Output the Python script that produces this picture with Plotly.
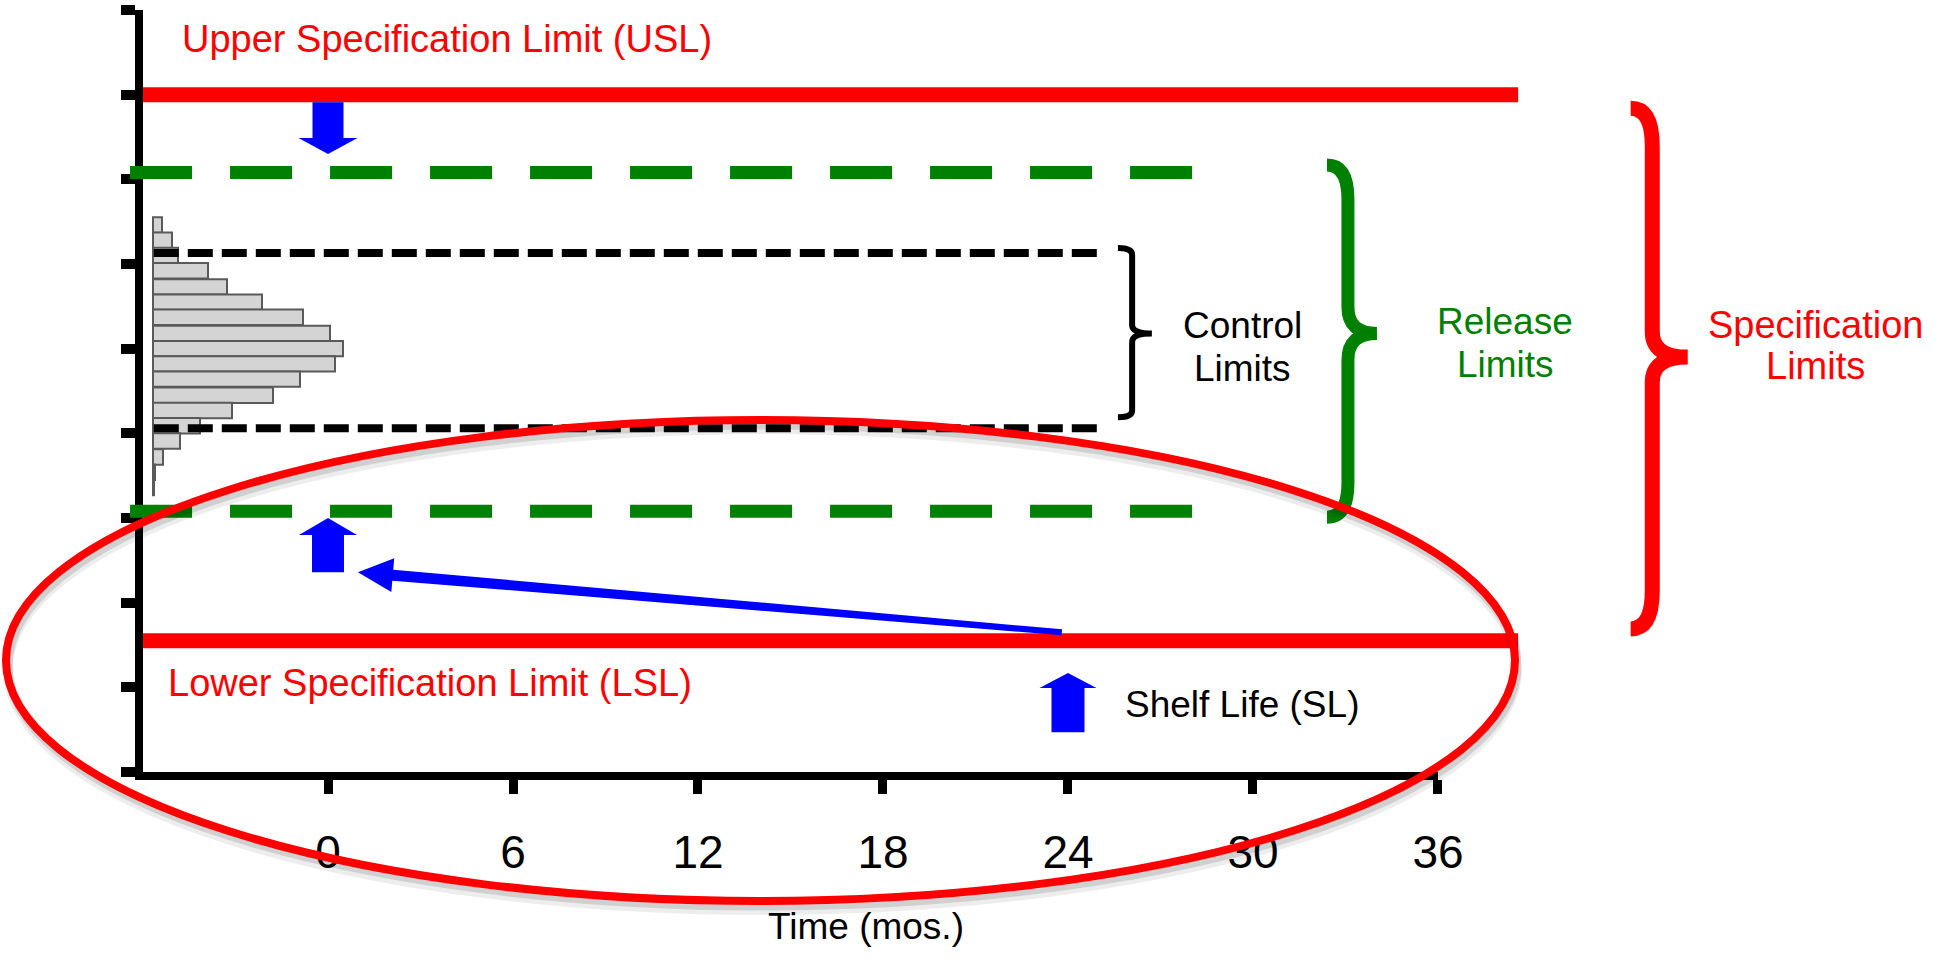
import plotly.graph_objects as go
import math

# ---------------- data ----------------
x_tick_months = [0, 6, 12, 18, 24, 30, 36]
y_tick_values = [0, 1, 2, 3, 4, 5, 6, 7, 8, 9]

USL = 8.0            # upper specification limit
LSL = 1.55           # lower specification limit
release_upper = 7.08
release_lower = 3.08
control_upper = 6.13
control_lower = 4.06
release_time = 0     # months
shelf_life = 24      # months

spec_x = [-6.0, 38.6]        # extent of the specification lines (months)
release_x = [-6.42, 28.6]    # extent of the release-limit lines
control_x = [-5.65, 25.0]    # extent of the control-limit lines

# histogram of release results (bin centre, frequency)
hist_bin_centres = [6.46, 6.28, 6.10, 5.92, 5.73, 5.55, 5.37, 5.18, 5.00,
                    4.82, 4.64, 4.45, 4.27, 4.09, 3.91, 3.72, 3.54, 3.36]
hist_counts = [9, 19, 25, 55, 74, 109, 150, 177, 190,
               182, 147, 120, 79, 47, 27, 10, 2, 1]
hist_bin_width = 0.182

# ---------------- geometry of the canvas ----------------
W, H = 1944, 961
X0_PX, PXX = 328.0, 30.833     # pixel of x=0 and pixels per month
Y0_PX, PXY = 772.0, 84.67      # pixel of y=0 and pixels per unit


def X(px):
    return (px - X0_PX) / PXX


def Y(py):
    return (Y0_PX - py) / PXY


def PX(x):
    return X0_PX + x * PXX


def PY(y):
    return Y0_PX - y * PXY


x_left_px, x_right_px = PX(-6), PX(36)
y_bot_px, y_top_px = PY(0), PY(9)
x_dom = [x_left_px / W, x_right_px / W]
y_dom = [1 - y_bot_px / H, 1 - y_top_px / H]
hist_base_px = x_left_px + 10   # bars start just right of the axis

FONT = "Liberation Sans, Arial, sans-serif"
RED = "#ff0000"
GREEN = "#008000"
BLUE = "#0000ff"

fig = go.Figure()

# 1) histogram on a hidden counts axis (x) sharing the visible y axis
fig.add_trace(go.Bar(
    y=hist_bin_centres, x=hist_counts, orientation="h", width=hist_bin_width,
    marker=dict(color="#d4d4d4", line=dict(color="#5a5a5a", width=2)),
    xaxis="x", yaxis="y", showlegend=False, hoverinfo="skip"))

# 2) control limits on the visible months axis (x2)
for yv in (control_upper, control_lower):
    fig.add_trace(go.Scatter(
        x=control_x, y=[yv, yv], mode="lines", xaxis="x2", yaxis="y",
        line=dict(color="black", width=8, dash="25px,9px"),
        showlegend=False, hoverinfo="skip"))

# 3) release and specification limits on full-canvas axes (x3/y3, same scale)
def hline(xs, yv, color, width, dash=None):
    fig.add_trace(go.Scatter(
        x=xs, y=[yv, yv], mode="lines", xaxis="x3", yaxis="y3",
        line=dict(color=color, width=width, dash=dash),
        showlegend=False, hoverinfo="skip"))

hline(release_x, release_upper, GREEN, 13, "62px,38px")
hline(release_x, release_lower, GREEN, 13, "62px,38px")
hline(spec_x, USL, RED, 15)
hline(spec_x, LSL, RED, 15)

shapes = []


def block_arrow(xc, y_tail, y_tip, shaft_px, head_px, head_len_px):
    sh = shaft_px / 2 / PXX
    hh = head_px / 2 / PXX
    sgn = 1 if y_tip > y_tail else -1
    yb = y_tip - sgn * head_len_px / PXY
    pts = [(xc - sh, y_tail), (xc - sh, yb), (xc - hh, yb), (xc, y_tip),
           (xc + hh, yb), (xc + sh, yb), (xc + sh, y_tail)]
    return "M " + " L ".join(f"{a:.4f},{b:.4f}" for a, b in pts) + " Z"


for p in [block_arrow(release_time, USL - 0.09, 7.30, 31, 59, 16),
          block_arrow(release_time, 2.36, release_lower - 0.08, 32, 58, 17),
          block_arrow(shelf_life, 0.47, 1.17, 33, 57, 15)]:
    shapes.append(dict(type="path", path=p, xref="x3", yref="y3",
                       fillcolor=BLUE, line=dict(width=0), layer="above"))

# thin arrow from shelf life back to release
tail = (PX(shelf_life - 0.2), PY(LSL + 0.1))
tip = (PX(0.97), PY(2.36))
dx, dy = tip[0] - tail[0], tip[1] - tail[1]
L = math.hypot(dx, dy)
ux, uy = dx / L, dy / L
nx, ny = -uy, ux
head_len, head_half = 35, 17
bx, by = tip[0] - head_len * ux, tip[1] - head_len * uy
poly = [
    (tail[0] + 3 * nx, tail[1] + 3 * ny),
    (bx + 5.5 * nx, by + 5.5 * ny),
    (bx + head_half * nx, by + head_half * ny),
    tip,
    (bx - head_half * nx, by - head_half * ny),
    (bx - 5.5 * nx, by - 5.5 * ny),
    (tail[0] - 3 * nx, tail[1] - 3 * ny),
]
shapes.append(dict(type="path", xref="x3", yref="y3", layer="above",
                   path="M " + " L ".join(f"{X(a):.4f},{Y(b):.4f}" for a, b in poly) + " Z",
                   fillcolor=BLUE, line=dict(width=0)))


def brace(x_hook, x_v, x_tip, y_top, y_bot, y_mid, r, r2):
    return (f"M {x_hook},{y_top} Q {x_v},{y_top} {x_v},{y_top - r} "
            f"L {x_v},{y_mid + r2} Q {x_v},{y_mid} {x_tip},{y_mid} "
            f"Q {x_v},{y_mid} {x_v},{y_mid - r2} "
            f"L {x_v},{y_bot + r} Q {x_v},{y_bot} {x_hook},{y_bot}")


shapes.append(dict(type="path", xref="x3", yref="y3", layer="above",
                   path=brace(25.62, 26.08, 26.72, 6.19, 4.19, 5.18, 0.08, 0.1),
                   line=dict(color="black", width=6)))
shapes.append(dict(type="path", xref="x3", yref="y3", layer="above",
                   path=brace(32.4, 33.08, 34.02, 7.17, 3.01, 5.18, 0.41, 0.31),
                   line=dict(color=GREEN, width=13)))
shapes.append(dict(type="path", xref="x3", yref="y3", layer="above",
                   path=brace(42.25, 42.95, 44.1, 7.84, 1.69, 4.9, 0.45, 0.3),
                   line=dict(color=RED, width=15)))

# highlight ellipse with a soft shadow
ex0, ex1, ey0, ey1 = X(6), X(1515), Y(901), Y(420)
for off, col, w in [(9, "rgba(0,0,0,0.07)", 10), (5, "rgba(0,0,0,0.12)", 9)]:
    shapes.append(dict(type="circle", xref="x3", yref="y3", layer="above",
                       x0=ex0 + 2 / PXX, x1=ex1 + 2 / PXX,
                       y0=ey0 - off / PXY, y1=ey1 - off / PXY,
                       line=dict(color=col, width=w)))
shapes.append(dict(type="circle", xref="x3", yref="y3", layer="above",
                   x0=ex0, x1=ex1, y0=ey0, y1=ey1,
                   line=dict(color=RED, width=8)))

annotations = []


def label(text, x, y, color, size, xanchor="center"):
    annotations.append(dict(text=text, x=x, y=y, xref="x3", yref="y3",
                            showarrow=False, xanchor=xanchor, yanchor="middle",
                            font=dict(family=FONT, size=size, color=color)))


label("Upper Specification Limit (USL)", X(180), Y(39), RED, 38, "left")
label("Lower Specification Limit (LSL)", X(166), Y(683), RED, 38, "left")
label("Shelf Life (SL)", X(1123), Y(704), "black", 37, "left")
label("Control", X(1242), Y(325), "black", 37)
label("Limits", X(1242), Y(368), "black", 37)
label("Release", X(1505), Y(321), GREEN, 37)
label("Limits", X(1505), Y(364), GREEN, 37)
label("Specification", X(1815), Y(325), RED, 38)
label("Limits", X(1815), Y(366), RED, 38)
label("Time (mos.)", X(866), Y(926), "black", 37)

fig.update_layout(
    template="none",
    width=W, height=H, autosize=False,
    margin=dict(l=0, r=0, t=0, b=0, pad=0, autoexpand=False),
    paper_bgcolor="white", plot_bgcolor="rgba(0,0,0,0)",
    showlegend=False,
    shapes=shapes, annotations=annotations,
    # hidden counts axis for the histogram
    xaxis=dict(domain=x_dom,
               range=[x_left_px - hist_base_px, x_right_px - hist_base_px],
               anchor="y", visible=False, automargin=False),
    # visible value axis
    yaxis=dict(domain=y_dom, range=[0, 9], anchor="x",
               tickvals=y_tick_values, showticklabels=False,
               ticks="outside", ticklen=14, tickwidth=10, tickcolor="black",
               showline=True, linewidth=8, linecolor="black",
               showgrid=False, zeroline=False, automargin=False),
    # visible time axis
    xaxis2=dict(domain=x_dom, range=[-6, 36], anchor="y",
                tickvals=x_tick_months,
                ticktext=[str(v) for v in x_tick_months],
                ticks="outside", ticklen=14, tickwidth=9, tickcolor="black",
                showline=True, linewidth=8, linecolor="black",
                showgrid=False, zeroline=False, ticklabelstandoff=19,
                automargin=False,
                tickfont=dict(family=FONT, size=46, color="black")),
    # full-canvas axes with the same data scale
    xaxis3=dict(domain=[0, 1], range=[X(0), X(W)], anchor="y3",
                visible=False, automargin=False),
    yaxis3=dict(domain=[0, 1], range=[Y(H), Y(0)], anchor="x3",
                visible=False, automargin=False),
)

fig.write_html(
    "out.html",
    config={"displayModeBar": False, "responsive": False},
    post_script=("document.body.style.margin='0px';"
                 "document.body.style.overflow='hidden';"
                 "document.documentElement.style.overflow='hidden';"))
